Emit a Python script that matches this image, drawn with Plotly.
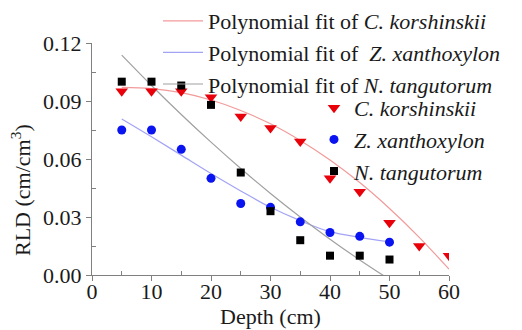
import plotly.graph_objects as go

# Measured data (depth in cm, RLD in cm/cm^3)
depth = [5, 10, 15, 20, 25, 30, 35, 40, 45, 50]
depth_ck = [5, 10, 15, 20, 25, 30, 35, 40, 45, 50, 55, 60]
rld_ck = [0.095, 0.095, 0.095, 0.092, 0.082, 0.076, 0.069, 0.050, 0.043, 0.027, 0.015, 0.010]
rld_zx = [0.075, 0.075, 0.065, 0.050, 0.037, 0.035, 0.0275, 0.022, 0.020, 0.017]
rld_nt = [0.100, 0.100, 0.098, 0.088, 0.053, 0.033, 0.018, 0.010, 0.010, 0.008]

# Fit curves
fit_ck_x = [5, 10, 15, 20, 25, 30, 35, 40, 45, 50, 55, 60]
fit_ck_y = [0.097, 0.0964, 0.0943, 0.0905, 0.0851, 0.0782, 0.0696, 0.0595, 0.0478, 0.0344, 0.0195, 0.003]
fit_zx_x = [5, 10, 15, 20, 25, 30, 35, 40, 45, 50]
fit_zx_y = [0.0807, 0.0715, 0.062, 0.0525, 0.0435, 0.035, 0.0281, 0.0224, 0.0195, 0.0172]
fit_nt_x = [5, 10, 15, 20, 25, 30, 35, 40, 45, 50]
fit_nt_y = [0.1137, 0.098, 0.083, 0.0687, 0.0551, 0.0422, 0.030, 0.0185, 0.0078, -0.0023]

x_ticks = [0, 10, 20, 30, 40, 50, 60]
y_ticks = [0.00, 0.03, 0.06, 0.09, 0.12]

FONT = "Liberation Serif"
TXT = "#1a1a1a"
FS = 22

fig = go.Figure()

fig.add_trace(go.Scatter(x=fit_ck_x, y=fit_ck_y, mode="lines", line=dict(color="#f29a9a", width=1.2, shape="spline"),
                         name="Polynomial fit of <i>C. korshinskii</i>", legend="legend"))
fig.add_trace(go.Scatter(x=fit_zx_x, y=fit_zx_y, mode="lines", line=dict(color="#a3a3f5", width=1.2, shape="spline"),
                         name="Polynomial fit of  <i>Z. xanthoxylon</i>", legend="legend"))
fig.add_trace(go.Scatter(x=fit_nt_x, y=fit_nt_y, mode="lines", line=dict(color="#a0a0a0", width=1.2, shape="spline"),
                         name="Polynomial fit of <i>N. tangutorum</i>", legend="legend"))

fig.add_trace(go.Scatter(x=depth_ck, y=rld_ck, mode="markers",
                         marker=dict(symbol="triangle-down", size=11, color="#e8000a"),
                         name="<i>C. korshinskii</i>", legend="legend2"))
fig.add_trace(go.Scatter(x=depth, y=rld_zx, mode="markers",
                         marker=dict(symbol="circle", size=9, color="#0a14f0"),
                         name="<i>Z. xanthoxylon</i>", legend="legend2"))
fig.add_trace(go.Scatter(x=depth, y=rld_nt, mode="markers",
                         marker=dict(symbol="square", size=8, color="#000000"),
                         name="<i>N. tangutorum</i>", legend="legend2"))

axis_common = dict(
    showline=True, linecolor="#808080", linewidth=1, mirror=False,
    showgrid=False, zeroline=False,
    ticks="outside", ticklen=5, tickcolor="#808080", tickwidth=1,
    tickfont=dict(family=FONT, size=FS, color=TXT),
)

fig.update_xaxes(range=[0, 60], tickvals=x_ticks, ticktext=[str(v) for v in x_ticks],
                 minor=dict(ticks="inside", tickvals=[5, 15, 25, 35, 45, 55], ticklen=4, tickcolor="#808080"),
                 title=dict(text="Depth (cm)", font=dict(family=FONT, size=FS, color=TXT), standoff=0),
                 ticklabelstandoff=-8,
                 **axis_common)
fig.update_yaxes(range=[0, 0.12], tickvals=y_ticks, ticktext=[f"{v:.2f}" for v in y_ticks],
                 minor=dict(ticks="inside", tickvals=[0.015, 0.045, 0.075, 0.105], ticklen=4, tickcolor="#808080"),
                 **axis_common)

# page body has an 8px margin: figure drawn at (8, 8) in the 522x330 window
OFF = 8
W, H = 522 - OFF, 330 - OFF
L, T, R, B = 92, 43, 449, 275  # plot area in window pixels
pw, ph = R - L, B - T

def px(xp):
    return (xp - L) / pw

def py(yp):
    return (B - yp) / ph

fig.update_layout(
    width=W, height=H,
    margin=dict(l=L - OFF, r=W - (R - OFF), t=T - OFF, b=H - (B - OFF), autoexpand=False),
    paper_bgcolor="white", plot_bgcolor="white",
    font=dict(family=FONT, size=FS, color=TXT),
    showlegend=True,
    legend=dict(x=px(158), y=py(0), xanchor="left", yanchor="top", bgcolor="rgba(0,0,0,0)",
                font=dict(family=FONT, size=FS, color=TXT), tracegroupgap=0, itemwidth=40),
    legend2=dict(x=px(314), y=py(87), xanchor="left", yanchor="top", bgcolor="rgba(0,0,0,0)",
                 font=dict(family=FONT, size=FS, color=TXT), tracegroupgap=0),
    annotations=[dict(text="RLD (cm/cm<sup>3</sup>)", x=px(21), y=py(190), xref="paper", yref="paper",
                      xanchor="center", yanchor="middle",
                      showarrow=False, textangle=-90,
                      font=dict(family=FONT, size=FS, color=TXT))],
)

fig.write_html("out.html")
